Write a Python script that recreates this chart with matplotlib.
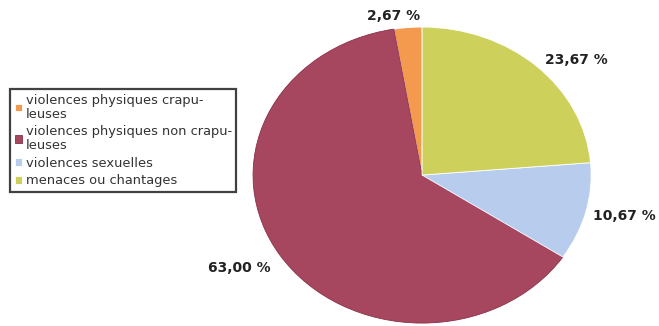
import matplotlib
matplotlib.use("Agg")
import matplotlib.pyplot as plt
import numpy as np

# Répartition des violences (en %)
categories = [
    "violences physiques crapu-\nleuses",
    "violences physiques non crapu-\nleuses",
    "violences sexuelles",
    "menaces ou chantages",
]
valeurs = [2.67, 63.00, 10.67, 23.67]
couleurs = ["#F39A4E", "#A6475F", "#B8CDEE", "#CDD15C"]

# placement des étiquettes : distance au centre et décalage angulaire (degrés)
dist_etiq = [1.09, 1.25, 1.23, 1.20]
decal_etiq = [4, -2.7, 1.4, -7]

fig = plt.figure(figsize=(6.59, 3.26), dpi=100)
ax = fig.add_axes([0.384, 0.009, 0.513, 0.908])

# sens anti-horaire depuis midi : orange, bordeaux, bleu, jaune
wedges, _ = ax.pie(valeurs, colors=couleurs, startangle=90, counterclock=True,
                   wedgeprops=dict(linewidth=0.6, edgecolor="#ffffff"))
wedges[1].set_edgecolor("#8a3048")
ax.set_aspect("auto")
ax.set_xlim(-1.0, 1.0)
ax.set_ylim(-1.0, 1.0)
ax.axis("off")

for w, v, d, da in zip(wedges, valeurs, dist_etiq, decal_etiq):
    ang = np.deg2rad((w.theta1 + w.theta2) / 2 + da)
    ax.text(d * np.cos(ang), d * np.sin(ang), f"{v:.2f} %".replace(".", ","),
            ha="center", va="center", fontsize=10, fontweight="bold",
            color="#222222", clip_on=False)

leg = fig.legend(wedges, categories, loc="upper left",
                 bbox_to_anchor=(10 / 659, 1 - 89 / 326),
                 fontsize=9.4, frameon=True, fancybox=False,
                 handlelength=0.55, handleheight=0.55, handletextpad=0.3,
                 labelspacing=0.35, borderpad=0.35, borderaxespad=0)
leg.get_frame().set_edgecolor("#111111")
leg.get_frame().set_linewidth(1.6)
for t in leg.get_texts():
    t.set_color("#333333")
    t.set_linespacing(1.1)

fig.savefig("out.png", dpi=100)
